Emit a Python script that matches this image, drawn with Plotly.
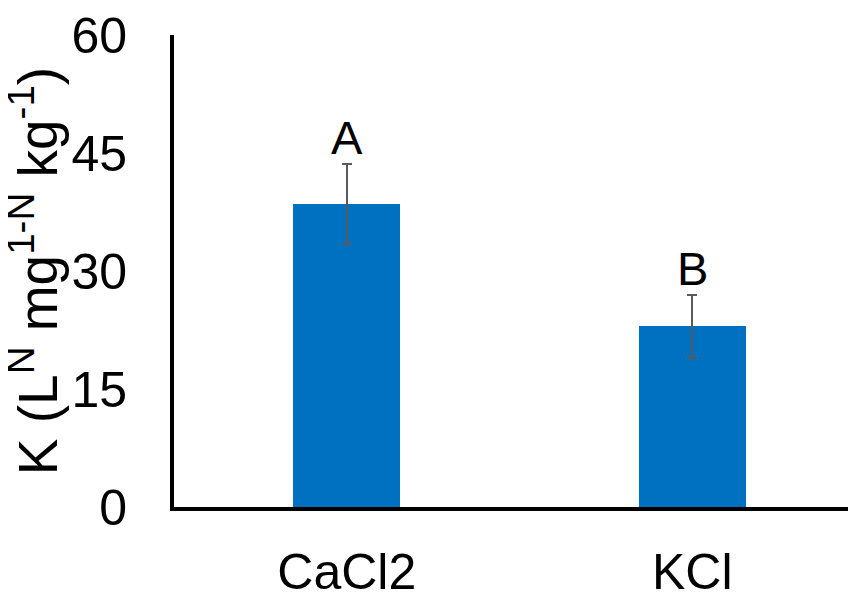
import plotly.graph_objects as go

categories = ["CaCl2", "KCl"]
values = [38.5, 23.0]
errors = [5.1, 4.0]
letters = ["A", "B"]
y_ticks = [0, 15, 30, 45, 60]
y_title = "K (L<sup>N</sup> mg<sup>1-N</sup> kg<sup>-1</sup>)"

fig = go.Figure()
fig.add_trace(go.Bar(
    x=categories, y=values,
    marker=dict(color="#0070C0", line=dict(width=0)),
    width=0.31,
    error_y=dict(type="data", array=errors, visible=True,
                 color="#595959", thickness=2, width=5),
))

for c, v, e, t in zip(categories, values, errors, letters):
    fig.add_annotation(x=c, y=v + e, text=t, showarrow=False,
                       yanchor="bottom", yshift=-2,
                       font=dict(family="Liberation Sans", size=47, color="black"))

fig.add_annotation(xref="paper", yref="paper", x=-0.205, y=0.5,
                   text=y_title, textangle=-90, showarrow=False,
                   xanchor="center", yanchor="middle",
                   font=dict(family="Liberation Sans", size=55, color="black"))

fig.update_layout(
    width=848, height=595,
    margin=dict(l=166, r=0, t=27, b=96),
    plot_bgcolor="white", paper_bgcolor="white",
    showlegend=False,
    bargap=0,
)
fig.update_xaxes(
    range=[-0.5, 1.474], automargin=False,
    showline=True, linecolor="black", linewidth=4,
    showgrid=False, ticks="",
    tickfont=dict(family="Liberation Sans", size=50, color="black"),
    ticklabelstandoff=18, ticklabeloverflow="allow",
)
fig.update_yaxes(
    range=[0, 60], tickvals=y_ticks, automargin=False,
    showline=True, linecolor="black", linewidth=4,
    showgrid=False, ticks="", zeroline=False,
    tickfont=dict(family="Liberation Sans", size=50, color="black"),
    ticklabelstandoff=33, ticklabeloverflow="allow",
)

fig.write_html("out.html")
